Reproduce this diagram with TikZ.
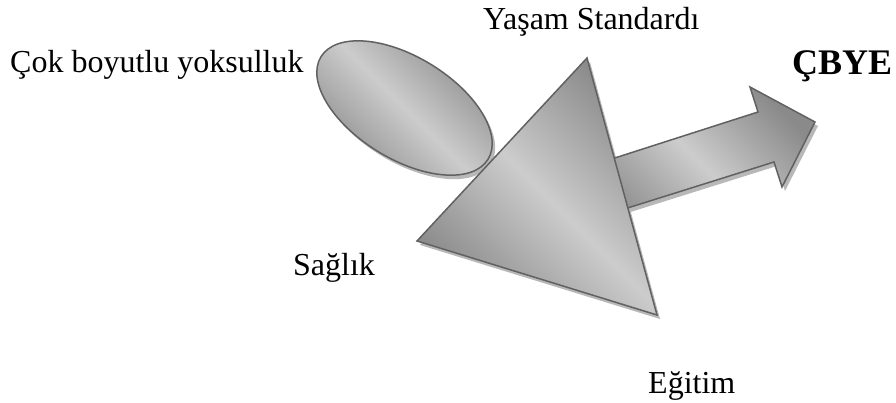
\documentclass[tikz,border=0pt]{standalone}
\usepackage{fontspec}
\setmainfont{Liberation Serif}
\usetikzlibrary{shapes.geometric}

\begin{document}
\begin{tikzpicture}[x=1pt,y=-1pt,sekil/.style={draw=black!62,line width=1.5pt,top color=black!46,bottom color=black!46,middle color=black!20,shading angle=-45},golge/.style={fill=black!28,xshift=3pt,yshift=-4pt},etiket/.style={anchor=base west,inner sep=0pt,font=\fontsize{32}{38}\selectfont}]
\useasboundingbox (0,0) rectangle (896,403);
% golgeler
\fill[golge] (404.5,108) ellipse [x radius=98,y radius=51,rotate=-31.5];
\fill[golge] (568,173) -- (758,112) -- (750,87) -- (815,122) -- (782,187) -- (774,162) -- (583,222) -- cycle;
\fill[golge] (587,58) -- (657,315) -- (417,241) -- cycle;
% sekiller
\draw[sekil] (404.5,108) ellipse [x radius=98,y radius=51,rotate=-31.5];
\draw[sekil] (568,173) -- (758,112) -- (750,87) -- (815,122) -- (782,187) -- (774,162) -- (583,222) -- cycle;
\draw[sekil] (587,58) -- (657,315) -- (417,241) -- cycle;
\node[etiket] (cok) at (10,73) {Çok boyutlu yoksulluk};
\node[etiket] (yasam) at (483,30) {Yaşam Standardı};
\node[etiket,font=\fontsize{36}{42}\selectfont\bfseries] (cbye) at (792,75) {ÇBYE};
\node[etiket] (saglik) at (293,275) {Sağlık};
\node[etiket] (egitim) at (648,393) {Eğitim};
\end{tikzpicture}
\end{document}
